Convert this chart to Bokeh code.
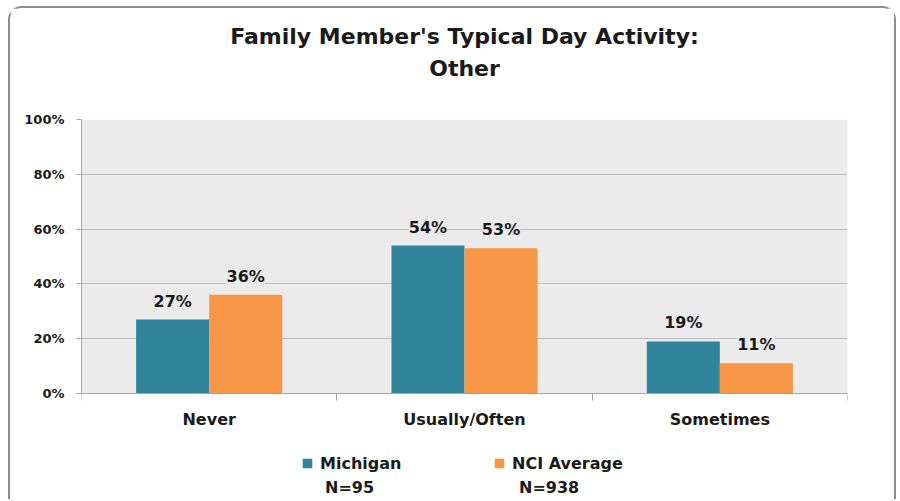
from bokeh.plotting import figure
from bokeh.models import (ColumnDataSource, FixedTicker, LabelSet, Legend,
                          LegendItem, Title, Range1d, BoxAnnotation)
from bokeh.embed import file_html
from bokeh.resources import INLINE
from bokeh.core.properties import value

# ---- data ----
categories = ["Never", "Usually/Often", "Sometimes"]
michigan = [0.27, 0.54, 0.19]
nci = [0.36, 0.53, 0.11]
series_names = ["Michigan", "NCI Average"]
series_n = ["N=95", "N=938"]
y_ticks = [0.0, 0.2, 0.4, 0.6, 0.8, 1.0]
y_tick_labels = ["0%", "20%", "40%", "60%", "80%", "100%"]
title_line1 = "Family Member's Typical Day Activity:"
title_line2 = "Other"

# ---- style ----
FONT = "DejaVu Sans"
TXT = "#1a1a1a"
TEAL = "#31849B"
ORANGE = "#F79646"
PLOT_BG = "#ebebeb"
GRID = "#bcbcbc"
AXIS = "#a6a6a6"
BAR_W = 0.286
PLOT_PX = 274          # pixel height of the 0..100% area
BELOW_PX = 108         # pixels kept under the 0% line for axis labels and legend

n_cat = len(categories)
centers = [i + 0.5 for i in range(n_cat)]
bounds = [float(i) for i in range(n_cat + 1)]
y_max = y_ticks[-1]
y_min = -BELOW_PX / PLOT_PX * y_max

src = ColumnDataSource(dict(
    xm=[c - BAR_W / 2 for c in centers],
    xn=[c + BAR_W / 2 for c in centers],
    m=michigan,
    n=nci,
    ml=[f"{round(v * 100)}%" for v in michigan],
    nl=[f"{round(v * 100)}%" for v in nci],
))

p = figure(width=888, height=493,
           min_border_left=71, min_border_right=51,
           min_border_top=111, min_border_bottom=0,
           x_range=Range1d(0, n_cat), y_range=Range1d(y_min, y_max),
           output_backend="svg", toolbar_location=None,
           background_fill_color="white", border_fill_color="white",
           outline_line_color=None)
p.styles = {
    "margin-left": "8px", "margin-top": "6px",
    "border-top": "2px solid #8c8c8c",
    "border-left": "2px solid #8c8c8c",
    "border-right": "2px solid #8c8c8c",
    "border-radius": "14px 14px 0 0",
}

# grey plot area (0..100%)
p.add_layout(BoxAnnotation(left=0, right=n_cat, bottom=0, top=y_max,
                           fill_color=PLOT_BG, fill_alpha=1, line_color=None,
                           level="image"))

r1 = p.vbar(x="xm", top="m", width=BAR_W, source=src, color=TEAL, line_color=None)
r2 = p.vbar(x="xn", top="n", width=BAR_W, source=src, color=ORANGE, line_color=None)
# invisible swatch holders for the "N=" legend row
ghost = ColumnDataSource(dict(x=[], top=[]))
g1 = p.vbar(x="x", top="top", width=BAR_W, source=ghost, fill_alpha=0, line_alpha=0)
g2 = p.vbar(x="x", top="top", width=BAR_W, source=ghost, fill_alpha=0, line_alpha=0)

for xcol, ycol, tcol in (("xm", "m", "ml"), ("xn", "n", "nl")):
    p.add_layout(LabelSet(x=xcol, y=ycol, text=tcol, source=src, y_offset=13,
                          text_align="center", text_baseline="alphabetic",
                          text_font=value(FONT), text_font_style="bold",
                          text_font_size="16px", text_color=TXT,
                          background_fill_color=PLOT_BG))

# x axis, drawn at 0%
xa = p.xaxis[0]
xa.fixed_location = 0
xa.ticker = FixedTicker(ticks=centers, minor_ticks=bounds)
xa.major_label_overrides = {c: lab for c, lab in zip(centers, categories)}
xa.major_tick_out = 0
xa.major_tick_in = 0
xa.minor_tick_out = 7
xa.minor_tick_in = 0
xa.minor_tick_line_color = AXIS
xa.axis_line_color = AXIS
xa.major_label_standoff = 9
xa.major_label_text_font = FONT
xa.major_label_text_font_style = "bold"
xa.major_label_text_font_size = "16px"
xa.major_label_text_color = TXT

# y axis
ya = p.yaxis[0]
ya.bounds = (0, y_max)
ya.ticker = FixedTicker(ticks=y_ticks, minor_ticks=[])
ya.major_label_overrides = {t: lab for t, lab in zip(y_ticks, y_tick_labels)}
ya.major_tick_out = 5
ya.major_tick_in = 0
ya.major_tick_line_color = AXIS
ya.axis_line_color = AXIS
ya.major_label_standoff = 12
ya.major_label_text_font = FONT
ya.major_label_text_font_style = "bold"
ya.major_label_text_font_size = "13px"
ya.major_label_text_color = TXT

p.xgrid.grid_line_color = None
p.ygrid.grid_line_color = GRID

# title: spacer next to the plot area, then the two lines
tstyle = dict(align="center", text_font=FONT, text_font_style="bold",
              text_font_size="22px", text_color=TXT)
p.add_layout(Title(text=" ", standoff=12, **tstyle), "above")
p.add_layout(Title(text=title_line2, standoff=0, **tstyle), "above")
p.add_layout(Title(text=title_line1, standoff=9, **tstyle), "above")

# legend: names with swatches, then the N= line below each
common = dict(orientation="horizontal", spacing=0, padding=0, margin=0,
              border_line_color=None, background_fill_alpha=0,
              label_text_font=FONT, label_text_font_style="bold",
              label_text_font_size="16px", label_text_color=TXT,
              label_height=20)
leg_a = Legend(items=[LegendItem(label=series_names[0], renderers=[r1]),
                      LegendItem(label=series_names[1], renderers=[r2])],
               location=(220, 28), glyph_width=12, glyph_height=12,
               label_standoff=7, label_width=173, **common)
leg_b = Legend(items=[LegendItem(label=series_n[0], renderers=[g1]),
                      LegendItem(label=series_n[1], renderers=[g2])],
               location=(239, 4), glyph_width=5, glyph_height=5,
               label_standoff=0, label_width=189, **common)
p.add_layout(leg_a)
p.add_layout(leg_b)

open("out.html", "w").write(file_html(p, INLINE))
